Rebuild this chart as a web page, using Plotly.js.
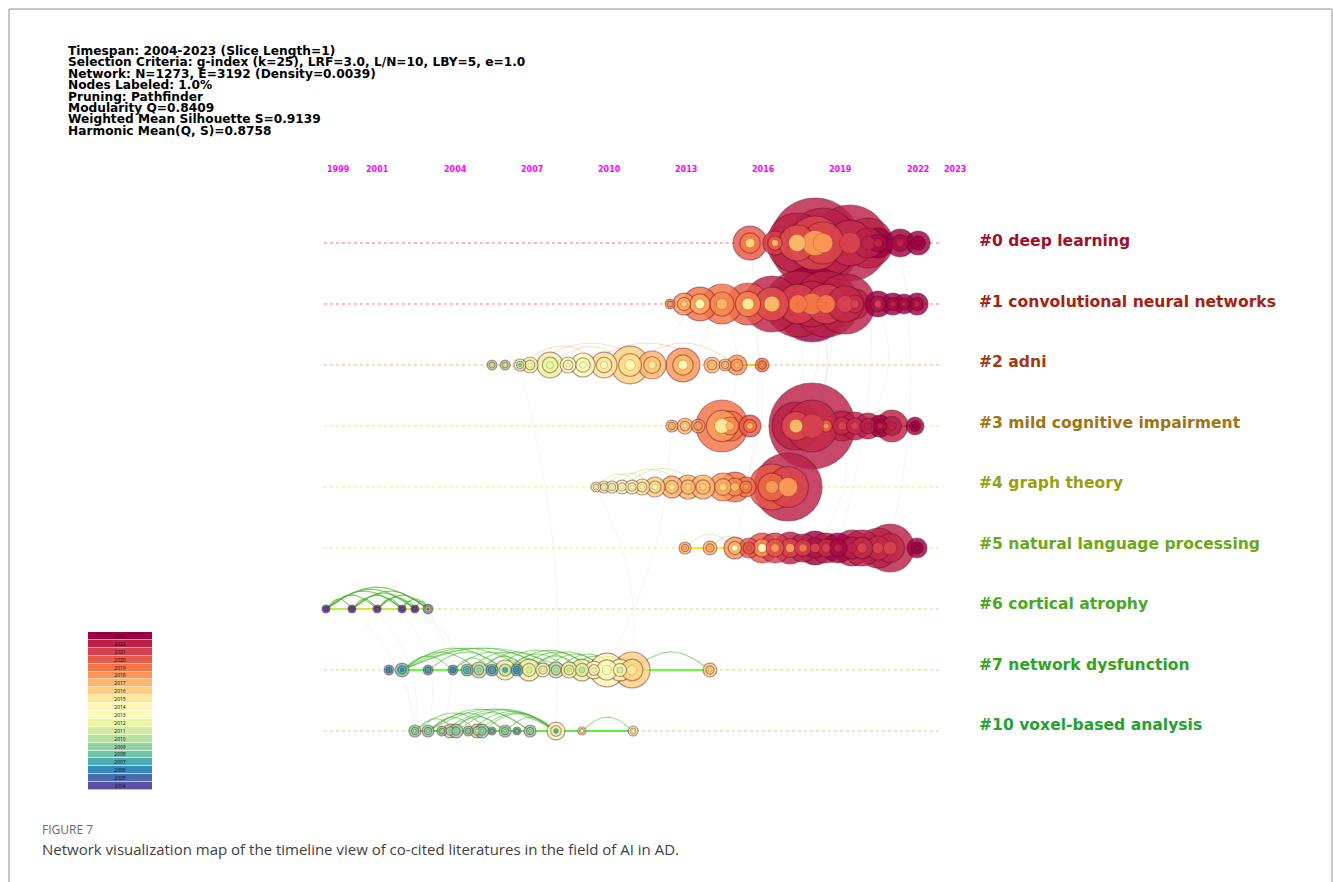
<!DOCTYPE html>
<html><head><meta charset="utf-8">
<script src="https://cdn.plot.ly/plotly-3.0.1.min.js"></script>
<style>html,body{margin:0;padding:0;background:#fff}</style>
</head><body><div id="chart" style="width:1333px;height:882px"></div>
<script>
// ---------------- DATA ----------------
const infoLines = [
  'Timespan: 2004-2023 (Slice Length=1)',
  'Selection Criteria: g-index (k=25), LRF=3.0, L/N=10, LBY=5, e=1.0',
  'Network: N=1273, E=3192 (Density=0.0039)',
  'Nodes Labeled: 1.0%',
  'Pruning: Pathfinder',
  'Modularity Q=0.8409',
  'Weighted Mean Silhouette S=0.9139',
  'Harmonic Mean(Q, S)=0.8758'
];
const tickLabels = ['1999','2001','2004','2007','2010','2013','2016','2019','2022','2023'];
const tickYears  = [1999.45, 2000.97, 2004, 2007, 2010, 2013, 2016, 2019, 2022, 2023.45];
const clusterLabels = ['#0 deep learning','#1 convolutional neural networks','#2 adni',
  '#3 mild cognitive impairment','#4 graph theory','#5 natural language processing',
  '#6 cortical atrophy','#7 network dysfunction','#10 voxel-based analysis'];
const legendYears = [2004,2005,2006,2007,2008,2009,2010,2011,2012,2013,2014,2015,2016,2017,2018,2019,2020,2021,2022,2023];

// cluster #0
const c0Year  = [2015.48,2016.45,2017.31,2018.01,2018.32,2019.37,2020.07,2020.46,2021.32,2022.02];
const c0Cites = [72,36,225,506,306,361,156,56,49,36];
const c0Outer = [2020,2021,2022,2022,2022,2022,2022,2023,2023,2023];
const c0Inner = [2016,2017,2017,2018,2018,2021,2022,2022,2022,2023];
// cluster #1
const c1Year  = [2012.37,2012.91,2013.53,2014.39,2015.40,2016.33,2017.35,2017.89,2018.44,2019.18,2019.56,2020.46,2021.04,2021.47,2021.98];
const c1Cites = [6,30,72,100,110,196,272,361,272,225,56,42,30,25,30];
const c1Outer = [2018,2018,2019,2019,2020,2022,2022,2023,2022,2022,2022,2023,2023,2023,2023];
const c1Inner = [2017,2016,2014,2017,2015,2017,2019,2019,2019,2021,2021,2021,2022,2022,2022];
// cluster #2
const c2Year  = [2005.44,2005.95,2006.53,2006.92,2007.70,2008.40,2008.98,2009.80,2010.81,2011.67,2012.87,2014.00,2014.51,2014.97,2015.95];
const c2Cites = [6,6,9,16,42,16,36,42,90,49,72,16,9,25,12];
const c2Outer = [2010,2010,2012,2012,2012,2013,2013,2015,2016,2017,2018,2017,2017,2018,2019];
const c2Inner = [2012,2012,2008,2013,2012,2014,2013,2014,2014,2015,2014,2016,2016,2017,2018];
const c2Links = [[3,9],[6,11],[8,13],[4,8],[2,7]];
// cluster #3
const c3Year  = [2012.44,2012.95,2013.46,2014.39,2014.70,2015.48,2017.27,2017.89,2018.44,2019.06,2019.56,2020.07,2020.54,2021.00,2021.90];
const c3Cites = [9,16,12,169,56,30,144,462,25,56,49,42,30,64,20];
const c3Outer = [2017,2017,2018,2019,2019,2020,2022,2022,2020,2022,2022,2022,2023,2022,2023];
const c3Inner = [2016,2015,2017,2015,2017,2017,2017,2021,2018,2021,2021,2022,2022,2022,2023];
const c3Links = [[10,14],[11,14]];
// cluster #4
const c4Year  = [2009.49,2009.80,2010.11,2010.50,2010.89,2011.28,2011.78,2012.44,2013.07,2013.65,2014.43,2014.89,2015.32,2016.33,2016.96];
const c4Cites = [6,9,9,12,12,16,25,30,36,36,49,56,25,132,289];
const c4Outer = [2013,2013,2013,2014,2014,2015,2016,2017,2017,2017,2018,2019,2019,2020,2022];
const c4Inner = [2013,2013,2014,2013,2014,2014,2014,2015,2016,2016,2016,2017,2018,2018,2018];
const c4Links = [[0,5],[2,8],[1,6],[3,9]];
// cluster #5
const c5Year  = [2012.95,2013.92,2014.89,2015.44,2015.95,2016.45,2017.04,2017.54,2018.01,2018.44,2018.90,2019.45,2019.84,2020.46,2020.93,2021.98];
const c5Cites = [9,12,30,25,56,56,64,49,72,56,56,81,81,100,144,25];
const c5Outer = [2017,2017,2018,2020,2020,2021,2022,2022,2023,2022,2023,2022,2022,2022,2022,2023];
const c5Inner = [2017,2017,2014,2020,2014,2018,2018,2019,2021,2021,2022,2022,2021,2021,2021,2023];
const c5Links = [[0,2],[1,3]];
// cluster #6
const c6Year  = [1998.98,1999.99,2000.97,2001.94,2002.44,2002.95];
const c6Cites = [4,4,4,4,4,6];
const c6Outer = [2004,2004,2004,2004,2004,2007];
const c6Inner = [2004,2004,2004,2004,2004,2021];
const c6Links = [[0,1],[0,2],[0,3],[0,4],[0,5],[1,2],[1,3],[1,4],[1,5],[2,3],[2,4],[2,5],[3,4],[3,5],[4,5]];
// cluster #7
const c7Year  = [2001.43,2001.94,2002.95,2003.92,2004.47,2004.93,2005.44,2005.95,2006.41,2006.88,2007.42,2007.93,2008.44,2008.94,2009.41,2009.91,2010.42,2010.89,2013.92];
const c7Cites = [6,12,6,6,9,16,9,25,9,30,12,16,16,30,20,72,30,81,12];
const c7Outer = [2007,2008,2007,2007,2008,2010,2007,2012,2007,2012,2013,2010,2012,2012,2013,2014,2013,2016,2016];
const c7Inner = [2006,2006,2007,2006,2007,2009,2007,2007,2006,2011,2012,2010,2011,2010,2012,2013,2011,2015,2016];
const c7Links = [[1,5],[1,7],[1,9],[1,11],[1,12],[2,7],[3,9],[4,10],[5,11],[6,13],[7,14],[8,14],[9,15],[10,15],[11,16],[12,16],[9,13],[7,12],[13,17],[17,18],[5,9],[3,6],[1,3]];
// cluster #10
const c10Year  = [2002.44,2002.95,2003.49,2003.81,2004.04,2004.51,2004.86,2005.05,2005.44,2005.95,2006.41,2006.92,2007.93,2008.94,2010.93];
const c10Cites = [9,9,6,12,12,6,12,12,4,9,4,9,20,4,6];
const c10Outer = [2009,2009,2009,2010,2009,2009,2010,2009,2008,2009,2008,2009,2014,2014,2014];
const c10Inner = [2009,2009,2010,2009,2009,2009,2010,2009,2008,2009,2008,2009,2007,2014,2014];
const c10Links = [[1,12],[2,12],[1,9],[1,11],[3,11],[4,12],[5,12],[6,12],[0,8],[1,6],[3,9],[7,12],[9,12],[13,14],[0,4]];
// faint links between clusters: [rowA, nodeA, rowB, nodeB]
const crossLinks = [[6,2,8,0],[6,3,8,1],[6,1,8,0],[6,4,7,3],[6,5,8,2],[8,12,2,2],[7,17,4,0],[7,15,3,0],
  [5,2,0,0],[5,5,1,6],[4,14,0,3],[3,7,0,4],[3,7,1,7],[4,14,1,8],[5,10,0,6],[5,14,0,8],[3,11,1,11],
  [2,8,1,1],[2,10,1,2],[4,12,1,4],[5,8,3,9],[3,3,1,3]];

// ---------------- STYLE / BUILD ----------------
const spectral = [[0,'#5e4fa2'],[0.1,'#3288bd'],[0.2,'#66c2a5'],[0.3,'#abdda4'],[0.4,'#e6f598'],
  [0.5,'#ffffbf'],[0.6,'#fee08b'],[0.7,'#fdae61'],[0.8,'#f46d43'],[0.9,'#d53e4f'],[1,'#9e0142']];
const clusters = [
  {x:c0Year,c:c0Cites,o:c0Outer,i:c0Inner,l:[]},
  {x:c1Year,c:c1Cites,o:c1Outer,i:c1Inner,l:[]},
  {x:c2Year,c:c2Cites,o:c2Outer,i:c2Inner,l:c2Links},
  {x:c3Year,c:c3Cites,o:c3Outer,i:c3Inner,l:c3Links},
  {x:c4Year,c:c4Cites,o:c4Outer,i:c4Inner,l:c4Links},
  {x:c5Year,c:c5Cites,o:c5Outer,i:c5Inner,l:c5Links},
  {x:c6Year,c:c6Cites,o:c6Outer,i:c6Inner,l:c6Links},
  {x:c7Year,c:c7Cites,o:c7Outer,i:c7Inner,l:c7Links},
  {x:c10Year,c:c10Cites,o:c10Outer,i:c10Inner,l:c10Links}
];
const rowLineColors = ['#f4a3a3','#f4aca0','#f8cf98','#f2ec9c','#eef2a8','#eaf2b0','#c9f0ad','#c4f0a8','#c4f0a8'];
const arcColors = ['#ccc','#ccc','rgba(230,170,110,0.35)','rgba(230,200,90,0.45)','rgba(190,220,100,0.45)','rgba(180,220,120,0.45)',
  'rgba(70,180,40,0.7)','rgba(70,180,40,0.55)','rgba(70,180,40,0.5)'];
const labelColors = ['#a0102c','#a8200e','#a03a10','#a07412','#98a012','#6ca818','#4aa820','#32a222','#22a232'];
const segs = [ // [row, fromNode, toNode, color]
  [6,0,5,'#c8ee3a'],[7,1,18,'#66ff33'],[8,0,14,'#55f533'],[5,0,2,'#ffee00'],[2,13,14,'#ffd400'],[3,12,14,'#e8a400']
];
const diam = c => 4*Math.sqrt(c);
const traces = [];

// cross links
crossLinks.forEach(([ra,na,rb,nb])=>{
  const x1=clusters[ra].x[na], x2=clusters[rb].x[nb];
  const X=[],Y=[];
  for(let k=0;k<=20;k++){const t=k/20;
    X.push(x1+(x2-x1)*t + 0.6*Math.sin(Math.PI*t)); Y.push(ra+(rb-ra)*t);}
  traces.push({type:'scatter',mode:'lines',x:X,y:Y,line:{color:'rgba(200,200,200,0.22)',width:1},hoverinfo:'skip',showlegend:false});
});

clusters.forEach((cl,r)=>{
  traces.push({type:'scatter',mode:'lines',x:[1998.9,2022.9],y:[r,r],
    line:{color:rowLineColors[r],width:1.6,dash:'dot'},hoverinfo:'skip',showlegend:false});
});
segs.forEach(([r,a,b,col])=>{
  traces.push({type:'scatter',mode:'lines',x:[clusters[r].x[a],clusters[r].x[b]],y:[r,r],
    line:{color:col,width:2.2},hoverinfo:'skip',showlegend:false});
});
clusters.forEach((cl,r)=>{
  if(!cl.l.length) return;
  const X=[],Y=[];
  cl.l.forEach(([a,b])=>{
    const x1=cl.x[a],x2=cl.x[b],h=Math.min(0.36,0.1+0.065*Math.abs(x2-x1));
    for(let k=0;k<=24;k++){const t=k/24;X.push(x1+(x2-x1)*t);Y.push(r-h*Math.sin(Math.PI*t));}
    X.push(null);Y.push(null);
  });
  traces.push({type:'scatter',mode:'lines',x:X,y:Y,line:{color:arcColors[r],width:1.1},hoverinfo:'skip',showlegend:false});
});
// nodes: outer, middle, inner layers
const layers = [
  {k:1.0, col:cl=>cl.o, op:0.82, lw:1.2, lc:'rgba(90,0,30,0.5)'},
  {k:0.6, col:cl=>cl.o.map((v,j)=>0.7*v+0.3*cl.i[j]), op:0.85, lw:1.2, lc:'rgba(90,0,30,0.45)'},
  {k:0.28, col:cl=>cl.i, op:1, lw:0.6, lc:'rgba(0,0,0,0.25)'}
];
layers.forEach(L=>{
  clusters.forEach((cl,r)=>{
    const order = cl.c.map((v,j)=>j).sort((a,b)=>cl.c[b]-cl.c[a]);
    traces.push({type:'scatter',mode:'markers',
      x:order.map(j=>cl.x[j]), y:order.map(()=>r),
      marker:{size:order.map(j=>Math.max(diam(cl.c[j])*L.k,3)),
        color:order.map(j=>L.col(cl)[j]),colorscale:spectral,cmin:2004,cmax:2023,
        opacity:L.op,line:{color:L.lc,width:L.lw}},
      hoverinfo:'skip',showlegend:false});
  });
});
// colour legend
traces.push({type:'heatmap',x:[0],y:legendYears,z:legendYears.map(v=>[v]),
  text:legendYears.map(v=>[String(v)]),texttemplate:'%{text}',textfont:{size:5,color:'#111'},
  colorscale:spectral,zmin:2004,zmax:2023,showscale:false,ygap:0.6,xaxis:'x2',yaxis:'y2',hoverinfo:'skip'});

const W=1333,H=882;
const annotations = [];
infoLines.forEach((t,k)=>annotations.push({text:t,xref:'paper',yref:'paper',x:66/W,y:1-(51+11.4*k)/H,
  xanchor:'left',yanchor:'middle',showarrow:false,font:{family:'DejaVu Sans',size:12.2,color:'#000',weight:700}}));
tickLabels.forEach((t,k)=>annotations.push({text:t,xref:'x',yref:'y',x:tickYears[k],y:-1.213,
  showarrow:false,font:{family:'DejaVu Sans',size:8,color:'#ff00ff',weight:700}}));
clusterLabels.forEach((t,k)=>annotations.push({text:t,xref:'paper',yref:'paper',x:977/W,y:1-(241+60.5*k)/H,
  xanchor:'left',yanchor:'middle',showarrow:false,font:{family:'DejaVu Sans',size:15.6,color:labelColors[k],weight:700}}));
annotations.push({text:'FIGURE 7',xref:'paper',yref:'paper',x:40/W,y:1-829/H,xanchor:'left',yanchor:'middle',
  showarrow:false,font:{family:'Open Sans',size:12,color:'#6a6a6a'}});
annotations.push({text:'Network visualization map of the timeline view of co-cited literatures in the field of AI in AD.',
  xref:'paper',yref:'paper',x:40/W,y:1-849/H,xanchor:'left',yanchor:'middle',showarrow:false,
  font:{family:'Open Sans',size:15,color:'#404040'}});

const shapes = [
  {type:'line',xref:'paper',yref:'paper',x0:9/W,x1:1332/W,y0:1-9/H,y1:1-9/H,line:{color:'#b4b4b4',width:1.5}},
  {type:'line',xref:'paper',yref:'paper',x0:9/W,x1:9/W,y0:1-9/H,y1:0,line:{color:'#b4b4b4',width:1.5}},
  {type:'line',xref:'paper',yref:'paper',x0:1332/W,x1:1332/W,y0:1-9/H,y1:0,line:{color:'#b4b4b4',width:1.5}}
];

const layout = {
  width:W,height:H,margin:{l:0,r:0,t:0,b:0},paper_bgcolor:'#fff',plot_bgcolor:'rgba(0,0,0,0)',
  showlegend:false,
  xaxis:{range:[2004-455/25.7,2004+(W-455)/25.7],visible:false,fixedrange:true,domain:[0,1]},
  yaxis:{range:[(H-243)/61,-243/61],visible:false,fixedrange:true,domain:[0,1]},
  xaxis2:{domain:[88/W,152/W],visible:false,anchor:'y2'},
  yaxis2:{domain:[1-790/H,1-632/H],range:[2003.5,2023.5],visible:false,anchor:'x2'},
  annotations,shapes
};
Plotly.newPlot('chart',traces,layout,{displayModeBar:false,staticPlot:true});
</script></body></html>
